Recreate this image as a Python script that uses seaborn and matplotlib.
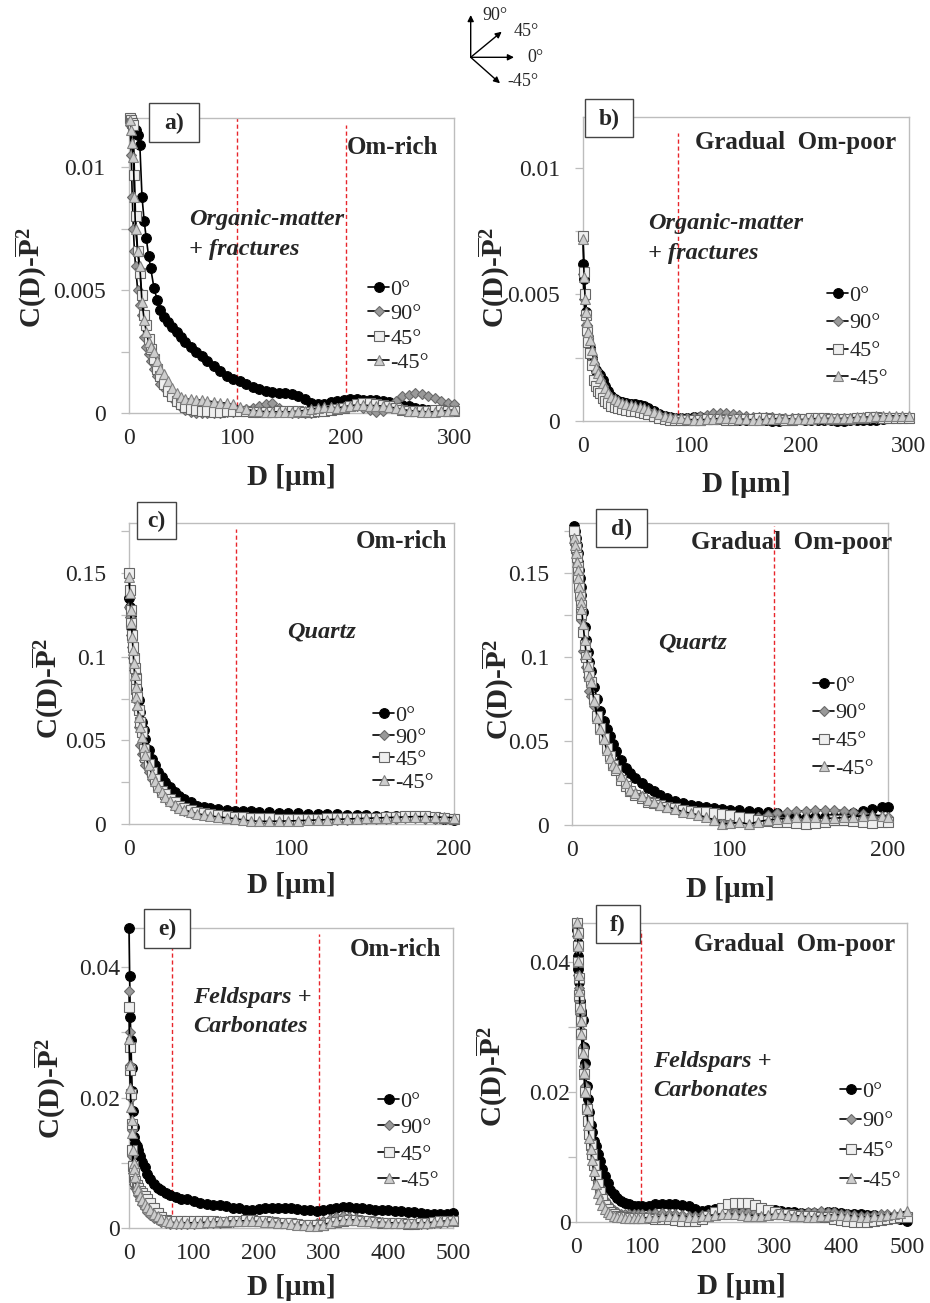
import matplotlib
matplotlib.use('Agg')
import matplotlib.pyplot as plt
import seaborn as sns
from matplotlib.lines import Line2D
from matplotlib.patches import Rectangle
from matplotlib.ticker import MultipleLocator

sns.set_style('white')
plt.rcParams['font.family'] = ['Liberation Serif', 'DejaVu Serif']
plt.rcParams['mathtext.fontset'] = 'custom'
plt.rcParams['mathtext.rm'] = 'Liberation Serif'
plt.rcParams['mathtext.bf'] = 'Liberation Serif:bold'
plt.rcParams['mathtext.it'] = 'Liberation Serif:italic'

# ---------------- data ----------------
series_labels = ['0°', '90°', '45°', '-45°']

D_a = [1, 2, 3, 4, 5, 6, 8, 10, 12, 14, 16, 18, 20, 23, 26, 29, 32, 36, 40, 44, 48, 52, 57, 62, 67, 72,
       78, 84, 90, 96, 102, 108, 114, 120, 126, 132, 138, 144, 150, 156, 162, 168, 174, 180, 186, 192,
       198, 204, 210, 216, 222, 228, 234, 240, 246, 252, 258, 264, 270, 276, 282, 288, 294, 300]
a_0 = [0.0120, 0.0120, 0.0119, 0.0118, 0.0116, 0.0115, 0.0113, 0.0109, 0.0088, 0.0078, 0.0071, 0.0064,
       0.0059, 0.0051, 0.0046, 0.0042, 0.0039, 0.0037, 0.0035, 0.0033, 0.0031, 0.0029, 0.0027, 0.0025,
       0.0023, 0.0021, 0.0019, 0.0017, 0.0015, 0.0014, 0.0013, 0.0012, 0.00105, 0.00097, 0.0009, 0.00085,
       0.00082, 0.0008, 0.00078, 0.0007, 0.00055, 0.00042, 0.00035, 0.00036, 0.00044, 0.0005, 0.00053,
       0.00055, 0.00055, 0.00054, 0.00054, 0.00052, 0.0005, 0.00046, 0.0004, 0.00034, 0.00028, 0.00022,
       0.00017, 0.00011, 0.00007, 0.00008, 0.0001, 0.00014]
a_90 = [0.0117, 0.0105, 0.0088, 0.0075, 0.0066, 0.0060, 0.0050, 0.0044, 0.0040, 0.0031, 0.0027, 0.0024,
        0.0021, 0.0018, 0.0015, 0.0012, 0.0010, 0.0008, 0.0006, 0.0004, 0.00025, 0.00012, 0.00005, 0.00002,
        0.0, 0.0, 0.0, 0.00002, 0.00005, 0.00005, 0.0001, 0.00015, 0.00022, 0.0003, 0.00038, 0.0004,
        0.0002, 0.00005, 0.0, 0.0, 0.0, 0.0, 0.00005, 0.0001, 0.00015, 0.0002, 0.00025, 0.0003, 0.00028,
        0.0002, 0.00012, 0.00005, 0.0001, 0.0003, 0.0005, 0.00068, 0.00075, 0.0008, 0.00078, 0.0007,
        0.0006, 0.0005, 0.00042, 0.00038]
a_45 = [0.0120, 0.0119, 0.0118, 0.0117, 0.0097, 0.0080, 0.0066, 0.0057, 0.0048, 0.0040, 0.0036, 0.0030,
        0.0026, 0.0022, 0.0018, 0.0015, 0.0012, 0.0009, 0.0007, 0.0005, 0.00035, 0.00025, 0.00018, 0.00012,
        0.0001, 0.00008, 0.00005, 0.00005, 0.00008, 0.0001, 0.0001, 0.00008, 0.00005, 0.00003, 0.00003,
        0.00005, 0.00008, 0.0001, 0.0001, 0.00008, 0.00005, 0.00005, 0.00008, 0.0001, 0.00012, 0.00015,
        0.0002, 0.0003, 0.00036, 0.0004, 0.0004, 0.00038, 0.00034, 0.00028, 0.0002, 0.00012, 0.00008,
        0.00008, 0.00008, 0.0001, 0.00012, 0.00012, 0.0001, 0.0001]
a_m45 = [0.0119, 0.0115, 0.0110, 0.0104, 0.0088, 0.0075, 0.0066, 0.0060, 0.0045, 0.0038, 0.0033, 0.0029,
         0.0027, 0.0025, 0.0021, 0.0018, 0.0016, 0.0013, 0.0010, 0.0008, 0.00065, 0.00058, 0.00055, 0.00054,
         0.00052, 0.0005, 0.00045, 0.00042, 0.0004, 0.00035, 0.00025, 0.00015, 0.0001, 0.00008, 0.00005,
         0.00005, 0.00005, 0.00005, 0.00005, 0.00008, 0.0001, 0.00015, 0.0002, 0.00025, 0.00025, 0.0002,
         0.00025, 0.0003, 0.00032, 0.00032, 0.0003, 0.0003, 0.00028, 0.00025, 0.0002, 0.00015, 0.0001,
         0.00008, 0.00005, 0.00005, 0.00005, 0.00008, 0.0001, 0.00012]

D_b = [0, 1, 2, 3, 4, 5, 6, 8, 10, 12, 14, 16, 18, 20, 23, 26, 29, 32, 36, 40, 44, 48, 52, 56, 60, 65, 70,
       75, 80, 85, 90, 96, 102, 108, 114, 120, 126, 132, 138, 144, 150, 156, 162, 168, 174, 180, 186, 192,
       198, 204, 210, 216, 222, 228, 234, 240, 246, 252, 258, 264, 270, 276, 282, 288, 294, 300]
b_0 = [0.0062, 0.0056, 0.0050, 0.0043, 0.0037, 0.0033, 0.0029, 0.0025, 0.0022, 0.0020, 0.0019, 0.0018,
       0.0016, 0.0014, 0.0012, 0.0010, 0.00088, 0.0008, 0.00074, 0.0007, 0.00068, 0.00066, 0.00064, 0.0006,
       0.00052, 0.0004, 0.00028, 0.0002, 0.00014, 0.0001, 0.0001, 0.00012, 0.00014, 0.00016, 0.00015,
       0.00012, 0.0001, 0.00008, 0.00006, 0.00005, 0.00004, 0.00003, 0.00005, 0.00002, 0.0, 0.0, 0.00002,
       0.00005, 0.00006, 0.00005, 0.00004, 0.00004, 0.00003, 0.00002, 0.0, 0.0, 0.00002, 0.00004, 0.00005,
       0.00003, 0.00005, 0.00008, 0.0001, 0.0001, 0.00012, 0.00012]
b_90 = [0.0058, 0.0048, 0.0042, 0.0038, 0.0034, 0.0031, 0.0028, 0.0025, 0.0022, 0.0020, 0.0018, 0.0016,
        0.0014, 0.0012, 0.0010, 0.0009, 0.0008, 0.00072, 0.00066, 0.0006, 0.00055, 0.0005, 0.00045, 0.0004,
        0.00035, 0.0003, 0.00022, 0.00016, 0.00012, 0.0001, 0.0001, 0.00012, 0.00015, 0.0002, 0.00025,
        0.0003, 0.00032, 0.0003, 0.00028, 0.00024, 0.0002, 0.00016, 0.00014, 0.00014, 0.00014, 0.00012,
        0.0001, 0.0001, 0.0001, 0.00008, 0.00006, 0.00006, 0.00008, 0.0001, 0.0001, 0.0001, 0.00012,
        0.00012, 0.0001, 0.0001, 0.0001, 0.00012, 0.00012, 0.00012, 0.0001, 0.0001]
b_45 = [0.0073, 0.0059, 0.0050, 0.0042, 0.0036, 0.0031, 0.0027, 0.0022, 0.0016, 0.0014, 0.0012, 0.0011,
        0.0009, 0.0008, 0.0007, 0.0006, 0.00056, 0.0005, 0.00046, 0.00042, 0.0004, 0.00038, 0.00036,
        0.00032, 0.00028, 0.0002, 0.00012, 0.00008, 0.00005, 0.00004, 0.00004, 0.00004, 0.00004, 0.00005,
        0.00006, 0.00006, 0.00006, 0.00005, 0.00005, 0.00006, 0.00006, 0.00008, 0.0001, 0.0001, 0.00008,
        0.00006, 0.00005, 0.00005, 0.00006, 0.00008, 0.0001, 0.0001, 0.0001, 0.00008, 0.00006, 0.00006,
        0.00008, 0.0001, 0.00012, 0.00014, 0.00014, 0.00012, 0.0001, 0.0001, 0.0001, 0.0001]
b_m45 = [0.0072, 0.0057, 0.0048, 0.0043, 0.0039, 0.0035, 0.0032, 0.0028, 0.0024, 0.0021, 0.0019, 0.0017,
         0.0015, 0.0013, 0.0011, 0.00095, 0.00085, 0.00078, 0.00072, 0.00068, 0.00064, 0.0006, 0.00055,
         0.0005, 0.00045, 0.00036, 0.00028, 0.0002, 0.00015, 0.00012, 0.0001, 0.00006, 0.00005, 0.00005,
         0.00006, 0.00008, 0.0001, 0.0001, 0.0001, 0.00008, 0.00006, 0.00005, 0.00005, 0.00006, 0.00008,
         0.0001, 0.0001, 0.00008, 0.00006, 0.00006, 0.00008, 0.0001, 0.0001, 0.0001, 0.0001, 0.0001,
         0.00012, 0.00014, 0.00015, 0.00016, 0.00018, 0.0002, 0.0002, 0.0002, 0.0002, 0.0002]

D_c = [0, 0.5, 1, 1.5, 2, 2.5, 3, 3.5, 4, 4.5, 5, 6, 7, 8, 9, 10, 12, 14, 16, 18, 20, 22, 25, 28, 31, 34,
       38, 42, 46, 50, 55, 60, 65, 70, 75, 80, 86, 92, 98, 104, 110, 116, 122, 128, 134, 140, 146, 152,
       158, 164, 170, 176, 182, 188, 194, 200]
c_0 = [0.135, 0.130, 0.125, 0.118, 0.112, 0.105, 0.099, 0.094, 0.089, 0.085, 0.081, 0.074, 0.067, 0.061,
       0.056, 0.051, 0.044, 0.039, 0.035, 0.031, 0.028, 0.025, 0.022, 0.019, 0.017, 0.015, 0.013, 0.011,
       0.0103, 0.0095, 0.009, 0.0085, 0.008, 0.0077, 0.0075, 0.0072, 0.007, 0.0068, 0.0066, 0.0064, 0.0062,
       0.006, 0.0058, 0.0057, 0.0055, 0.0053, 0.0052, 0.005, 0.0049, 0.0047, 0.0045, 0.0043, 0.004, 0.0036,
       0.0031, 0.0026]
c_90 = [0.130, 0.124, 0.120, 0.113, 0.106, 0.099, 0.092, 0.086, 0.080, 0.074, 0.069, 0.058, 0.047, 0.042,
        0.038, 0.035, 0.031, 0.027, 0.024, 0.021, 0.018, 0.016, 0.013, 0.011, 0.0095, 0.008, 0.0068, 0.006,
        0.0052, 0.0046, 0.004, 0.0035, 0.003, 0.0027, 0.0025, 0.0023, 0.0022, 0.0021, 0.0021, 0.0021,
        0.0022, 0.0023, 0.0024, 0.0025, 0.0026, 0.0027, 0.0028, 0.003, 0.0031, 0.0032, 0.0033, 0.0033,
        0.0032, 0.003, 0.0028, 0.0027]
c_45 = [0.150, 0.140, 0.128, 0.120, 0.113, 0.106, 0.099, 0.093, 0.087, 0.081, 0.076, 0.068, 0.061, 0.055,
        0.045, 0.040, 0.036, 0.031, 0.027, 0.023, 0.020, 0.018, 0.015, 0.013, 0.011, 0.0095, 0.0082, 0.0072,
        0.0064, 0.0058, 0.0052, 0.0047, 0.0043, 0.004, 0.0037, 0.0035, 0.0033, 0.0032, 0.0031, 0.0031,
        0.0031, 0.0032, 0.0033, 0.0034, 0.0035, 0.0036, 0.0037, 0.0038, 0.004, 0.0043, 0.0046, 0.0048,
        0.0046, 0.0042, 0.0036, 0.003]
c_m45 = [0.148, 0.138, 0.128, 0.120, 0.112, 0.104, 0.096, 0.089, 0.082, 0.076, 0.071, 0.064, 0.058, 0.052,
         0.046, 0.041, 0.035, 0.030, 0.026, 0.022, 0.019, 0.016, 0.0135, 0.0115, 0.0098, 0.0085, 0.0072,
         0.0062, 0.0054, 0.0048, 0.0042, 0.0037, 0.0032, 0.0025, 0.0018, 0.0016, 0.0016, 0.0017, 0.0018,
         0.002, 0.0022, 0.0024, 0.0026, 0.0028, 0.003, 0.0032, 0.0034, 0.0036, 0.0038, 0.004, 0.0042,
         0.0044, 0.0044, 0.0042, 0.004, 0.0038]

D_d = [1.5, 2, 2.5, 3, 3.5, 4, 4.5, 5, 5.5, 6, 7, 8, 9, 10, 11, 12, 14, 16, 18, 20, 22, 24, 26, 28, 31, 34,
       37, 40, 44, 48, 52, 56, 60, 65, 70, 75, 80, 85, 90, 95, 100, 106, 112, 118, 124, 130, 136, 142, 148,
       154, 160, 166, 172, 178, 184, 190, 196, 200]
d_0 = [0.178, 0.175, 0.171, 0.167, 0.162, 0.157, 0.152, 0.147, 0.142, 0.137, 0.127, 0.118, 0.110, 0.103,
       0.097, 0.092, 0.082, 0.075, 0.068, 0.062, 0.057, 0.053, 0.048, 0.044, 0.039, 0.034, 0.031, 0.028,
       0.025, 0.022, 0.020, 0.018, 0.016, 0.0145, 0.013, 0.012, 0.0112, 0.0106, 0.010, 0.0096, 0.0092,
       0.0088, 0.0084, 0.008, 0.0075, 0.007, 0.006, 0.005, 0.004, 0.0045, 0.005, 0.005, 0.006, 0.007,
       0.0085, 0.0095, 0.0105, 0.011]
d_90 = [0.172, 0.168, 0.163, 0.158, 0.152, 0.146, 0.140, 0.134, 0.128, 0.122, 0.104, 0.099, 0.094, 0.088,
        0.080, 0.077, 0.071, 0.065, 0.058, 0.050, 0.044, 0.040, 0.036, 0.033, 0.028, 0.024, 0.021, 0.019,
        0.017, 0.015, 0.0135, 0.012, 0.011, 0.0098, 0.0088, 0.0078, 0.0068, 0.0055, 0.004, 0.002, 0.0015,
        0.0025, 0.004, 0.005, 0.006, 0.007, 0.0078, 0.0082, 0.0085, 0.0088, 0.009, 0.009, 0.0085, 0.0075,
        0.0065, 0.0055, 0.0048, 0.0045]
d_45 = [0.175, 0.170, 0.165, 0.160, 0.154, 0.148, 0.142, 0.137, 0.131, 0.126, 0.115, 0.107, 0.100, 0.094,
        0.089, 0.085, 0.075, 0.065, 0.058, 0.052, 0.046, 0.041, 0.036, 0.033, 0.027, 0.023, 0.020, 0.018,
        0.016, 0.014, 0.013, 0.012, 0.011, 0.010, 0.009, 0.0085, 0.008, 0.0075, 0.007, 0.0065, 0.006,
        0.005, 0.004, 0.003, 0.0025, 0.002, 0.0015, 0.001, 0.0005, 0.001, 0.002, 0.003, 0.003, 0.0025,
        0.0015, 0.001, 0.0015, 0.002]
d_m45 = [0.171, 0.167, 0.162, 0.157, 0.152, 0.147, 0.142, 0.137, 0.133, 0.129, 0.120, 0.110, 0.102, 0.095,
         0.089, 0.085, 0.074, 0.064, 0.057, 0.051, 0.045, 0.040, 0.036, 0.034, 0.029, 0.025, 0.021, 0.019,
         0.017, 0.015, 0.0135, 0.012, 0.0108, 0.0095, 0.008, 0.007, 0.006, 0.0045, 0.003, 0.0005, 0.001,
         0.0015, 0.0005, 0.002, 0.003, 0.0035, 0.004, 0.0045, 0.005, 0.0045, 0.004, 0.004, 0.0045, 0.005,
         0.0055, 0.006, 0.0055, 0.005]

D_e = [0, 1, 2, 3, 4, 5, 6, 7, 8, 10, 12, 14, 17, 20, 24, 28, 33, 38, 44, 50, 57, 64, 72, 80, 90,
       100, 110, 120, 130, 140, 150, 160, 170, 180, 190, 200, 210, 220, 230, 240, 250, 260, 270, 280, 290,
       300, 310, 320, 330, 340, 350, 360, 370, 380, 390, 400, 410, 420, 430, 440, 450, 460, 470, 480, 490,
       500]
e_0 = [0.046, 0.0386, 0.0324, 0.0288, 0.0245, 0.021, 0.018, 0.0155, 0.014, 0.013, 0.0125, 0.012, 0.011,
       0.0101, 0.0093, 0.0083, 0.0075, 0.0067, 0.0062, 0.0058, 0.0054, 0.0051, 0.0048, 0.0045, 0.0044,
       0.0041, 0.0039, 0.0037, 0.0036, 0.0036, 0.0034, 0.0031, 0.003, 0.0028, 0.0028,
       0.0029, 0.003, 0.003, 0.0031, 0.0031, 0.003, 0.0029, 0.0028, 0.0027, 0.0026,
       0.0027, 0.0029, 0.0031, 0.0032, 0.0032, 0.0031, 0.003, 0.0029, 0.0028, 0.0028,
       0.0027, 0.0026, 0.0026, 0.0025, 0.0024, 0.0023, 0.0022, 0.0021, 0.0021, 0.0022, 0.0023]
e_90 = [0.0364, 0.0301, 0.025, 0.02, 0.015, 0.011, 0.0085, 0.0075, 0.0068, 0.0062, 0.0056, 0.005, 0.0044,
        0.0037, 0.0031, 0.0025, 0.002, 0.0016, 0.0012, 0.0009, 0.0007, 0.0006, 0.0006, 0.0006, 0.0006,
        0.0006, 0.0007, 0.0007, 0.0008, 0.0008, 0.0009, 0.0009, 0.001, 0.001, 0.0011,
        0.0011, 0.001, 0.001, 0.0009, 0.0008, 0.0007, 0.0006, 0.0005, 0.0005, 0.0007,
        0.001, 0.0014, 0.0017, 0.0018, 0.0017, 0.0015, 0.0013, 0.0011, 0.001, 0.0009,
        0.0008, 0.0008, 0.0008, 0.0007, 0.0006, 0.0006, 0.0006, 0.0007, 0.0008, 0.0009, 0.001]
e_45 = [0.0339, 0.0278, 0.0242, 0.0205, 0.016, 0.012, 0.0095, 0.0085, 0.0078, 0.0072, 0.0066, 0.0062,
        0.0057, 0.0053, 0.0049, 0.0045, 0.0038, 0.003, 0.0023, 0.0017, 0.0013, 0.0011, 0.001, 0.001, 0.001,
        0.001, 0.0011, 0.0011, 0.001, 0.0009, 0.0009, 0.001, 0.0011, 0.0012, 0.0012,
        0.0011, 0.001, 0.0009, 0.0008, 0.0008, 0.0007, 0.0006, 0.0005, 0.0004, 0.0004,
        0.0005, 0.0007, 0.0009, 0.0011, 0.0012, 0.0012, 0.0011, 0.001, 0.0009, 0.0008,
        0.0008, 0.0007, 0.0007, 0.0006, 0.0006, 0.0007, 0.0008, 0.0009, 0.001, 0.001, 0.0011]
e_m45 = [0.029, 0.025, 0.0215, 0.0185, 0.0165, 0.0146, 0.012, 0.01, 0.009, 0.0078, 0.0064, 0.0058, 0.0049,
         0.0043, 0.0037, 0.0032, 0.0027, 0.0022, 0.0018, 0.0014, 0.0011, 0.0009, 0.0008, 0.0008, 0.0008,
         0.0008, 0.0008, 0.0009, 0.0009, 0.001, 0.001, 0.0011, 0.0011, 0.0011, 0.001,
         0.001, 0.0009, 0.0009, 0.0008, 0.0007, 0.0006, 0.0005, 0.0004, 0.0003, 0.0003,
         0.0005, 0.0008, 0.001, 0.0012, 0.0013, 0.0012, 0.0011, 0.001, 0.0009, 0.0009,
         0.0008, 0.0008, 0.0007, 0.0007, 0.0007, 0.0008, 0.0008, 0.0009, 0.001, 0.0011, 0.0012]

D_f = [2, 2.5, 3, 3.5, 4, 5, 6, 7, 8, 10, 12, 14, 16, 18, 20, 22, 24, 27, 30, 33, 36, 40, 44, 48, 52, 57,
       62, 68, 74, 80, 87, 94,
       100, 110, 120, 130, 140, 150, 160, 170, 180, 190, 200, 210, 220, 230, 240, 250, 260, 270, 280, 290,
       300, 310, 320, 330, 340, 350, 360, 370, 380, 390, 400, 410, 420, 430, 440, 450, 460, 470, 480, 490,
       500]
f_0 = [0.045, 0.043, 0.041, 0.039, 0.037, 0.035, 0.034, 0.0325, 0.032, 0.0311, 0.027, 0.0245, 0.021, 0.019,
       0.017, 0.015, 0.0138, 0.0125, 0.0117, 0.0105, 0.0094, 0.0082, 0.0071, 0.006, 0.005, 0.0043, 0.0037,
       0.0033, 0.003, 0.0027, 0.0025, 0.0024,
       0.0024, 0.0025, 0.0027, 0.0028, 0.0027, 0.0027, 0.0026, 0.0024, 0.002, 0.0017,
       0.0018, 0.002, 0.0022, 0.0023, 0.0024, 0.0024, 0.0023, 0.0022, 0.0021, 0.0019,
       0.0018, 0.0017, 0.0016, 0.0015, 0.0014, 0.0014, 0.0014, 0.0014, 0.0015, 0.0015,
       0.0014, 0.0013, 0.0012, 0.0012, 0.0011, 0.0011, 0.001, 0.0009, 0.0007, 0.0004, 0.0001]
f_90 = [0.044, 0.042, 0.040, 0.038, 0.036, 0.034, 0.032, 0.031, 0.0295, 0.027, 0.024, 0.021, 0.018, 0.016,
        0.014, 0.0125, 0.011, 0.0093, 0.0078, 0.0065, 0.0054, 0.0043, 0.0034, 0.0027, 0.0022, 0.0018,
        0.0015, 0.0013, 0.0012, 0.0012, 0.0012, 0.0012,
        0.0012, 0.0013, 0.0014, 0.0014, 0.0013, 0.0012, 0.0011, 0.001, 0.001, 0.0011,
        0.0012, 0.0013, 0.0014, 0.0015, 0.0016, 0.0016, 0.0016, 0.0015, 0.0015, 0.0014,
        0.0014, 0.0014, 0.0013, 0.0013, 0.0014, 0.0015, 0.0016, 0.0017, 0.0016, 0.0015,
        0.0013, 0.0012, 0.0011, 0.001, 0.001, 0.0011, 0.0012, 0.0012, 0.0011, 0.0009, 0.0007]
f_45 = [0.046, 0.0445, 0.0425, 0.040, 0.0375, 0.035, 0.033, 0.031, 0.029, 0.026, 0.0228, 0.020, 0.0174,
        0.0155, 0.0135, 0.0118, 0.0105, 0.0088, 0.0072, 0.0058, 0.0046, 0.0035, 0.0026, 0.002, 0.0016,
        0.0012, 0.001, 0.0008, 0.0007, 0.0006, 0.0006, 0.0006,
        0.0006, 0.0006, 0.0005, 0.0005, 0.0004, 0.0003, 0.0002, 0.0001, 0.0002, 0.0005,
        0.001, 0.0016, 0.0022, 0.0027, 0.003, 0.003, 0.0029, 0.0026, 0.0022, 0.0018,
        0.0015, 0.0013, 0.0012, 0.0011, 0.001, 0.0009, 0.0009, 0.0008, 0.0007, 0.0005,
        0.0003, 0.0001, 0.0, 0.0, 0.0, 0.0001, 0.0003, 0.0005, 0.0006, 0.0007, 0.0008]
f_m45 = [0.0462, 0.0445, 0.0425, 0.0402, 0.038, 0.0355, 0.033, 0.031, 0.029, 0.026, 0.023, 0.020, 0.0174,
         0.015, 0.013, 0.0112, 0.0095, 0.0078, 0.0058, 0.0045, 0.0036, 0.0026, 0.002, 0.0016, 0.0012,
         0.001, 0.0008, 0.0007, 0.0006, 0.0006, 0.0006, 0.0006,
         0.0006, 0.0007, 0.0008, 0.0009, 0.001, 0.001, 0.0009, 0.0008, 0.0008, 0.0009,
         0.001, 0.0011, 0.0012, 0.0012, 0.0012, 0.0011, 0.001, 0.001, 0.001, 0.0011,
         0.0012, 0.0012, 0.0011, 0.001, 0.0009, 0.0008, 0.0008, 0.0009, 0.001, 0.0011,
         0.0011, 0.001, 0.0009, 0.0008, 0.0008, 0.0009, 0.001, 0.0011, 0.0012, 0.0014, 0.0017]

# axis ticks / labels
xticks_300 = [0, 100, 200, 300]
xticks_200 = [0, 100, 200]
xticks_500 = [0, 100, 200, 300, 400, 500]
yticks_a = [0, 0.005, 0.01]
ylabels_a = ['0', '0.005', '0.01']
yticks_c = [0, 0.05, 0.1, 0.15]
ylabels_c = ['0', '0.05', '0.1', '0.15']
yticks_e = [0, 0.02, 0.04]
ylabels_e = ['0', '0.02', '0.04']

# boundary lines (µm)
vlines_a = [100, 200]
vlines_b = [87]
vlines_c = [66]
vlines_d = [128]
vlines_e = [67, 293]
vlines_f = [98]

# ---------------- layout / style ----------------
W, H = 930, 1303
fig = plt.figure(figsize=(W / 100, H / 100), dpi=100)


def rect(l, t, r, b):
    return [l / W, 1 - b / H, (r - l) / W, (b - t) / H]


styles = [
    dict(marker='o', markersize=7.0, markerfacecolor='black', markeredgecolor='black'),
    dict(marker='D', markersize=5.2, markerfacecolor='#999999', markeredgecolor='#6a6a6a'),
    dict(marker='s', markersize=6.6, markerfacecolor='#efefef', markeredgecolor='#666666'),
    dict(marker='^', markersize=7.6, markerfacecolor='#cdcdcd', markeredgecolor='#808080'),
]
SPINE = '#bdbdbd'
RED = '#e8252b'

panels = [
    dict(tag='a)', box=(129, 118, 454, 413), D=D_a, ys=[a_0, a_90, a_45, a_m45], xlim=(0, 300),
         xt=xticks_300, ylim=(0, 0.012), yt=yticks_a, ytl=ylabels_a, ymin=0.0025, vl=vlines_a, vtop=[1.0, 0.976],
         tagbox=(149, 103, 199, 142), regime='Om-rich', rxy=(392, 148),
         phase=['Organic-matter', '+ fractures'], pxy=(189, 220), pdy=30,
         leg=(368, 279), lsp=0.18, ypad=11, ylx=-0.305, yly=0.46, xly=-0.217),
    dict(tag='b)', box=(583, 117, 909, 421), D=D_b, ys=[b_0, b_90, b_45, b_m45], xlim=(0, 300),
         xt=xticks_300, ylim=(0, 0.012), yt=yticks_a, ytl=ylabels_a, ymin=0.0025, vl=vlines_b, vtop=[0.947],
         tagbox=(585, 99, 633, 137), regime='Gradual  Om-poor', rxy=(796, 143),
         phase=['Organic-matter', '+ fractures'], pxy=(648, 223), pdy=30,
         leg=(827, 285), lsp=0.33, ypad=10.5, ylx=-0.276, yly=0.47, xly=-0.21),
    dict(tag='c)', box=(129, 523, 454, 824), D=D_c, ys=[c_0, c_90, c_45, c_m45], xlim=(0, 200),
         xt=xticks_200, ylim=(0, 0.18), yt=yticks_c, ytl=ylabels_c, ymin=0.025, vl=vlines_c, vtop=[0.98],
         tagbox=(137, 502, 176, 539), regime='Om-rich', rxy=(401, 542),
         phase=['Quartz'], pxy=(287, 632), pdy=30,
         leg=(373, 705), lsp=0.08, ypad=10.5, ylx=-0.252, yly=0.45, xly=-0.203),
    dict(tag='d)', box=(572, 523, 888, 825), D=D_d, ys=[d_0, d_90, d_45, d_m45], xlim=(0, 200),
         xt=xticks_200, ylim=(0, 0.18), yt=yticks_c, ytl=ylabels_c, ymin=0.025, vl=vlines_d, vtop=[0.99],
         tagbox=(596, 509, 647, 547), regime='Gradual  Om-poor', rxy=(792, 543),
         phase=['Quartz'], pxy=(658, 643), pdy=30,
         leg=(813, 675), lsp=0.33, ypad=10.5, ylx=-0.237, yly=0.447, xly=-0.215),
    dict(tag='e)', box=(129, 928, 453, 1228), D=D_e, ys=[e_0, e_90, e_45, e_m45], xlim=(0, 500),
         xt=xticks_500, ylim=(0, 0.046), yt=yticks_e, ytl=ylabels_e, ymin=0.01, vl=vlines_e, vtop=[0.95, 0.98],
         tagbox=(144, 909, 190, 948), regime='Om-rich', rxy=(395, 949),
         phase=['Feldspars +', 'Carbonates'], pxy=(193, 998), pdy=29,
         leg=(378, 1091), lsp=0.27, ypad=0.5, ylx=-0.247, yly=0.463, xly=-0.197),
    dict(tag='f)', box=(576, 923, 907, 1222), D=D_f, ys=[f_0, f_90, f_45, f_m45], xlim=(0, 500),
         xt=xticks_500, ylim=(0, 0.046), yt=yticks_e, ytl=ylabels_e, ymin=0.01, vl=vlines_f, vtop=[0.976],
         tagbox=(596, 905, 640, 943), regime='Gradual  Om-poor', rxy=(795, 945),
         phase=['Feldspars +', 'Carbonates'], pxy=(653, 1062), pdy=28,
         leg=(840, 1081), lsp=0.42, ypad=-2, ylx=-0.257, yly=0.485, xly=-0.217),
]

ylab = r'C(D)-$\overline{\mathbf{P}}^{\mathbf{2}}$'
xlab = 'D [µm]'

axes = []
for p in panels:
    ax = fig.add_axes(rect(*p['box']))
    axes.append(ax)
    for vals, st in zip(p['ys'], styles):
        sns.lineplot(x=p['D'], y=vals, ax=ax, color='black', linewidth=1.2, markeredgewidth=0.8,
                     sort=False, estimator=None, errorbar=None, legend=False, clip_on=False,
                     zorder=3, **st)
    for xv, top in zip(p['vl'], p['vtop']):
        ax.axvline(xv, ymin=0, ymax=top, color=RED, lw=1.0, ls=(0, (3, 2)), zorder=2)
    ax.set_xlim(*p['xlim'])
    ax.set_ylim(*p['ylim'])
    ax.set_xticks(p['xt'])
    ax.set_xticklabels([str(v) for v in p['xt']])
    ax.set_yticks(p['yt'])
    ax.set_yticklabels(p['ytl'])
    ax.yaxis.set_minor_locator(MultipleLocator(p['ymin']))
    ax.tick_params(axis='y', which='both', direction='out', length=6, width=0.9, color=SPINE,
                   labelsize=17, pad=p['ypad'], left=True)
    ax.tick_params(axis='x', which='both', length=0, labelsize=17, pad=11)
    for s in ax.spines.values():
        s.set_color(SPINE)
        s.set_linewidth(1.0)
    ax.set_xlabel(xlab, fontsize=21, fontweight='bold', va='center')
    ax.xaxis.set_label_coords(0.5, p['xly'])
    ax.set_ylabel(ylab, fontsize=21, fontweight='bold', va='center')
    ax.yaxis.set_label_coords(p['ylx'], p['yly'])
    ax.grid(False)

    handles = [Line2D([], [], color='black', linewidth=1.2, markeredgewidth=0.8, **st) for st in styles]
    lx, ly = p['leg']
    ax.legend(handles, series_labels, loc='upper left', bbox_to_anchor=(lx / W, 1 - ly / H),
              bbox_transform=fig.transFigure, frameon=False, fontsize=16, handlelength=0.95,
              handletextpad=0.05, labelspacing=p['lsp'], borderpad=0, borderaxespad=0, numpoints=1)

# overlay for annotations in pixel coordinates
ov = fig.add_axes([0, 0, 1, 1], zorder=10)
ov.set_xlim(0, W)
ov.set_ylim(H, 0)
ov.axis('off')
ov.patch.set_alpha(0)

for p in panels:
    l, t, r, b = p['tagbox']
    ov.add_patch(Rectangle((l, t), r - l, b - t, facecolor='white', edgecolor='#444444', lw=1.0))
    ov.text((l + r) / 2, (t + b) / 2 + 1, p['tag'], ha='center', va='center', fontsize=17, fontweight='bold')
    ov.text(p['rxy'][0], p['rxy'][1], p['regime'], ha='center', va='center', fontsize=18, fontweight='bold')
    px, py = p['pxy']
    for i, line in enumerate(p['phase']):
        ov.text(px, py + i * p['pdy'], line, ha='left', va='center', fontsize=17.5,
                fontweight='bold', fontstyle='italic')

# direction diagram
origin = (470.7, 57.3)
tips = [(470.7, 15.0), (501.7, 31.7), (514.0, 57.3), (500.0, 83.3)]
dir_labels = ['90°', '45°', '0°', '-45°']
lab_pos = [(495, 15), (526, 31), (535, 58), (523, 82)]
for tip, lab, lp in zip(tips, dir_labels, lab_pos):
    ov.annotate('', xy=tip, xytext=origin,
                arrowprops=dict(arrowstyle='-|>', color='black', lw=1.0, mutation_scale=9,
                                shrinkA=0, shrinkB=0))
    ov.text(lp[0], lp[1], lab, ha='center', va='center', fontsize=13)

fig.savefig('out.png', dpi=100)
